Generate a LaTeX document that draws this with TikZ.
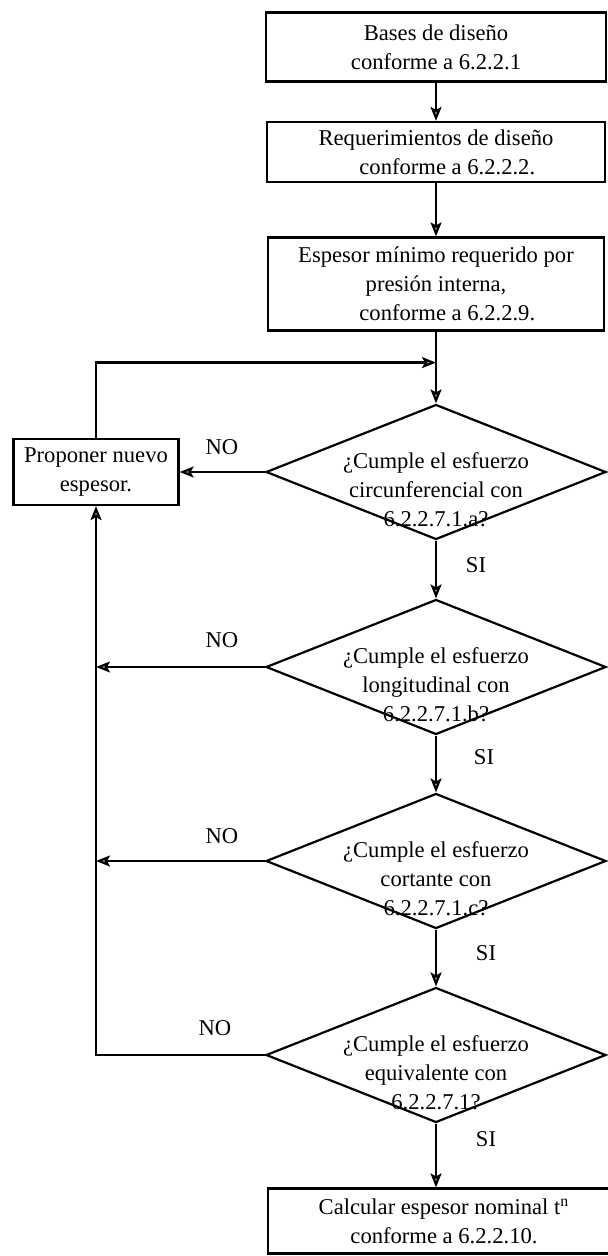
\documentclass[tikz,border=0pt]{standalone}
\usepackage{fontspec}
\setmainfont{Liberation Serif}
\usetikzlibrary{arrows.meta,positioning,shapes.geometric}
\tikzset{
  box/.style={draw,line width=1.1pt,align=center,inner sep=0pt},
  cond/.style={draw,diamond,line width=1.1pt,minimum width=170pt,minimum height=67.5pt,inner sep=0pt},
  flow/.style={line width=1.1pt,-{Stealth[length=7pt,width=5.5pt,inset=1.5pt,fill=gray!55]}},
  tag/.style={inner sep=1pt},
}
% decision diamond with its question set a little below the centre
\newcommand{\condnode}[3]{%
  \node[cond] (#1) at (#2) {};
  \node[align=center,inner sep=0pt] (#1q) at ([yshift=-9]#1.center) {#3};
}

\begin{document}
\begin{tikzpicture}[x=0.5pt,y=-0.5pt,font=\fontsize{11.3}{14.5}\selectfont]
  \useasboundingbox (0,0) rectangle (608,1256);

  \node[box,minimum width=170pt,minimum height=34.5pt] (bases) at (436,47)
    {Bases de diseño\\conforme a 6.2.2.1};
  \node[box,minimum width=169pt,minimum height=30pt] (reqs) at (436,152)
    {Requerimientos de diseño\\\hspace*{1em}conforme a 6.2.2.2.};
  \node[box,minimum width=168pt,minimum height=46.5pt] (espmin) at (436,284)
    {Espesor mínimo requerido por\\presión interna,\\\hspace*{1em}conforme a 6.2.2.9.};
  \path (espmin.south) ++(0,31) coordinate (join);

  \node[box,minimum width=82.5pt,minimum height=33pt] (prop) at (96,472)
    {Proponer nuevo\\espesor.};

  \condnode{c1}{436,472}{¿Cumple el esfuerzo\\circunferencial con\\6.2.2.7.1.a?}
  \condnode{c2}{436,667}{¿Cumple el esfuerzo\\longitudinal con\\6.2.2.7.1.b?}
  \condnode{c3}{436,861}{¿Cumple el esfuerzo\\cortante con\\6.2.2.7.1.c?}
  \condnode{c4}{436,1055}{¿Cumple el esfuerzo\\equivalente con\\6.2.2.7.1?}

  \node[box,minimum width=176pt,minimum height=32.5pt] (calc) at (444,1221)
    {Calcular espesor nominal t\textsuperscript{n}\\conforme a 6.2.2.10.};

  % main line
  \draw[flow] (bases) -- (reqs);
  \draw[flow] (reqs) -- (espmin);
  \draw[flow] (espmin) -- (c1);
  \draw[flow] (c1) -- (c2);
  \draw[flow] (c2) -- (c3);
  \draw[flow] (c3) -- (c4);
  \draw[flow] (c4.south) -- (c4.south |- calc.north);

  % return branch
  \draw[flow] (prop.north) |- (join);
  \draw[flow] (c1.west) -- (prop.east);
  \draw[flow] (c2.west) -- (c2.west -| prop.south);
  \draw[flow] (c3.west) -- (c3.west -| prop.south);
  \draw[flow] (c4.west) -| (prop.south);

  \node[tag] (no1) at ([shift={(-43,-25)}]c1.west) {NO};
  \node[tag] (no2) at ([shift={(-43,-27)}]c2.west) {NO};
  \node[tag] (no3) at ([shift={(-43,-25)}]c3.west) {NO};
  \node[tag] (no4) at ([shift={(-50,-27)}]c4.west) {NO};

  \node[tag] (si1) at ([shift={(40,25)}]c1.south) {SI};
  \node[tag] (si2) at ([shift={(48,22)}]c2.south) {SI};
  \node[tag] (si3) at ([shift={(50,24)}]c3.south) {SI};
  \node[tag] (si4) at ([shift={(50,16)}]c4.south) {SI};
\end{tikzpicture}
\end{document}
